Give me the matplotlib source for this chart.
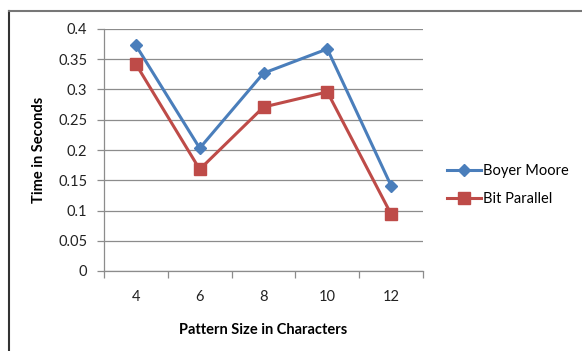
import matplotlib
matplotlib.use("Agg")
import matplotlib.pyplot as plt
from matplotlib.lines import Line2D
import numpy as np

# datos
tamanos = ['4', '6', '8', '10', '12']
boyer_moore = [0.373, 0.203, 0.327, 0.367, 0.141]
bit_parallel = [0.342, 0.168, 0.271, 0.296, 0.094]

plt.rcParams['font.family'] = ['Lato', 'DejaVu Sans']

fig = plt.figure(figsize=(5.82, 3.51), dpi=100)
ax = fig.add_axes([104/582, 1 - 271/351, 319/582, 242/351])

x = np.arange(len(tamanos))
ax.plot(x, boyer_moore, color='#4A7EBB', lw=2.2, marker='D', ms=6.5,
        label='Boyer Moore', zorder=3)
ax.plot(x, bit_parallel, color='#BE4B48', lw=2.2, marker='s', ms=8,
        label='Bit Parallel', zorder=3)

ax.set_xlim(-0.5, len(tamanos) - 0.5)
ax.set_ylim(0, 0.4)
ax.set_yticks(np.arange(0, 0.41, 0.05))
ax.set_yticklabels(['0', '0.05', '0.1', '0.15', '0.2', '0.25', '0.3', '0.35', '0.4'])
ax.yaxis.grid(True, color='#8C8C8C', lw=0.9)
ax.set_axisbelow(True)

ax.set_xticks(x)
ax.set_xticklabels(tamanos)
ax.set_xticks(np.arange(-0.5, len(tamanos)), minor=True)
ax.tick_params(axis='x', which='major', length=0, pad=14, labelsize=10.5, colors='#222222')
ax.tick_params(axis='x', which='minor', length=5, color='#8C8C8C', width=0.9)
ax.tick_params(axis='y', length=5, width=0.9, labelsize=10.5, pad=7,
               colors='#8C8C8C', labelcolor='#222222')

for s in ['top', 'right']:
    ax.spines[s].set_visible(False)
for s in ['left', 'bottom']:
    ax.spines[s].set_color('#8C8C8C')
    ax.spines[s].set_linewidth(0.9)

ax.set_xlabel('Pattern Size in Characters', fontsize=10.5, fontweight='bold', labelpad=13)
ax.set_ylabel('Time in Seconds', fontsize=10.5, fontweight='bold', labelpad=9)

fig.legend(loc='center left', bbox_to_anchor=(434/582, 1 - 185/351), frameon=False,
           fontsize=10.5, handlelength=2.3, handletextpad=0.15, labelspacing=0.95)

# borde exterior
fig.add_artist(Line2D([9/582, 9/582], [0, 1 - 11/351], color='#333333', lw=1.5,
                      transform=fig.transFigure))
fig.add_artist(Line2D([9/582, 1], [1 - 11/351, 1 - 11/351], color='#777777', lw=1.5,
                      transform=fig.transFigure))

fig.savefig('out.png', dpi=100)
